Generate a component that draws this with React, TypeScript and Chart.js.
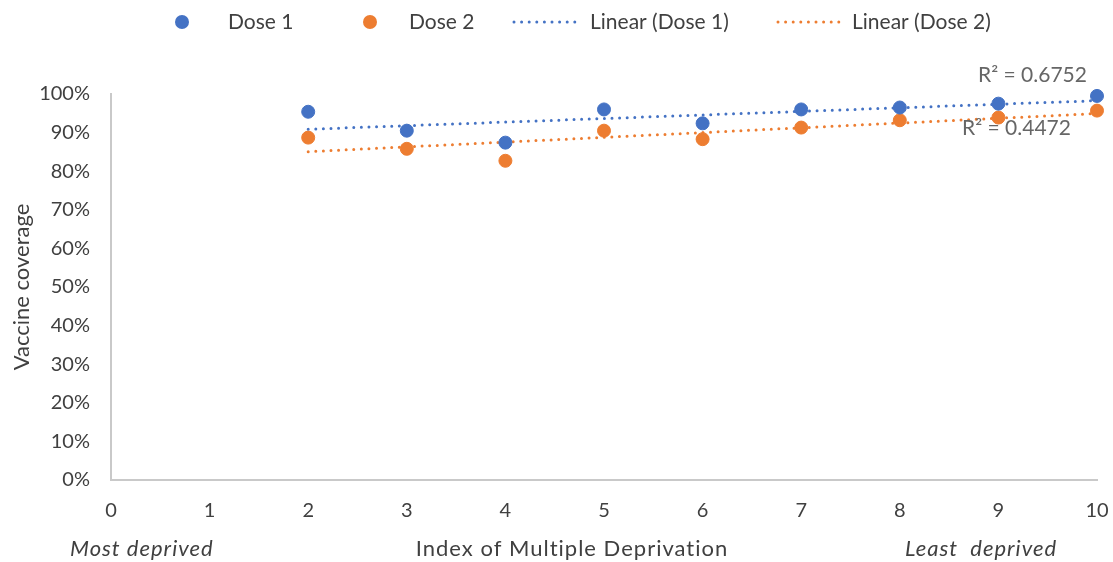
import React, { useEffect, useRef } from "react";
import { Chart, registerables } from "chart.js";

Chart.register(...registerables);

// Deprivation decile (x) and vaccine coverage in percent (y)
const deciles = [2, 3, 4, 5, 6, 7, 8, 9, 10];
const dose1Coverage = [95.4, 90.5, 87.4, 96.0, 92.4, 96.0, 96.5, 97.5, 99.5];
const dose2Coverage = [88.7, 85.8, 82.7, 90.5, 88.3, 91.3, 93.2, 93.9, 95.7];

const seriesNames = ["Dose 1", "Dose 2", "Linear (Dose 1)", "Linear (Dose 2)"];
const rSquaredLabels = ["R\u00B2 = 0.6752", "R\u00B2 = 0.4472"];
const axisLabels = {
  y: "Vaccine coverage",
  x: "Index of Multiple Deprivation",
  left: "Most deprived",
  right: "Least  deprived",
};

const BLUE = "#4472C4";
const ORANGE = "#ED7D31";
const TEXT = "#404040";
const FONT = "Lato";

// Ordinary least-squares trend line over the plotted range
function linearTrend(xs: number[], ys: number[]) {
  const n = xs.length;
  const mx = xs.reduce((a, b) => a + b, 0) / n;
  const my = ys.reduce((a, b) => a + b, 0) / n;
  let sxy = 0;
  let sxx = 0;
  for (let i = 0; i < n; i++) {
    sxy += (xs[i] - mx) * (ys[i] - my);
    sxx += (xs[i] - mx) ** 2;
  }
  const slope = sxy / sxx;
  const x0 = Math.min(...xs);
  const x1 = Math.max(...xs);
  return [
    { x: x0, y: my + slope * (x0 - mx) },
    { x: x1, y: my + slope * (x1 - mx) },
  ];
}

const pairs = (ys: number[]) => deciles.map((x, i) => ({ x, y: ys[i] }));

// Legend, R² notes and the bottom captions
const annotations = {
  id: "annotations",
  afterDraw(chart: any) {
    const ctx = chart.ctx;
    const area = chart.chartArea;
    ctx.save();
    ctx.textBaseline = "middle";
    ctx.textAlign = "left";

    // legend row
    const ly = 22;
    const dot = (cx: number, color: string) => {
      ctx.beginPath();
      ctx.arc(cx, ly, 7, 0, Math.PI * 2);
      ctx.fillStyle = color;
      ctx.fill();
    };
    const dotted = (x0: number, x1: number, color: string) => {
      ctx.save();
      ctx.strokeStyle = color;
      ctx.lineWidth = 3;
      ctx.lineCap = "round";
      ctx.setLineDash([0, 7.6]);
      ctx.beginPath();
      ctx.moveTo(x0, ly);
      ctx.lineTo(x1, ly);
      ctx.stroke();
      ctx.restore();
    };
    dot(182, BLUE);
    dot(370, ORANGE);
    dotted(514, 582, BLUE);
    dotted(778, 842, ORANGE);
    ctx.font = `21px ${FONT}`;
    ctx.fillStyle = TEXT;
    ctx.fillText(seriesNames[0], 228, ly);
    ctx.fillText(seriesNames[1], 409, ly);
    ctx.fillText(seriesNames[2], 590, ly);
    ctx.fillText(seriesNames[3], 852, ly);

    // R² notes beside the trend lines
    ctx.font = `21px ${FONT}`;
    ctx.fillStyle = "#666666";
    ctx.fillText(rSquaredLabels[0], area.right - 119, 75);
    ctx.fillText(rSquaredLabels[1], area.right - 135, 128);

    // bottom captions
    const by = 549;
    ctx.fillStyle = TEXT;
    ctx.letterSpacing = "1px";
    ctx.font = `italic 22px ${FONT}`;
    ctx.fillText(axisLabels.left, 70, by);
    ctx.fillText(axisLabels.right, 905, by);
    ctx.font = `22px ${FONT}`;
    ctx.textAlign = "center";
    ctx.fillText(axisLabels.x, 572, by);
    ctx.restore();
  },
};

export default function App() {
  const canvasRef = useRef<HTMLCanvasElement | null>(null);

  useEffect(() => {
    const canvas = canvasRef.current;
    if (!canvas) return;

    const chart = new Chart(canvas, {
      type: "scatter",
      data: {
        datasets: [
          {
            type: "line",
            label: seriesNames[2],
            data: linearTrend(deciles, dose1Coverage),
            borderColor: BLUE,
            borderWidth: 3,
            borderDash: [0, 7.6],
            borderCapStyle: "round",
            pointRadius: 0,
            fill: false,
            clip: false,
            order: 1,
          },
          {
            type: "line",
            label: seriesNames[3],
            data: linearTrend(deciles, dose2Coverage),
            borderColor: ORANGE,
            borderWidth: 3,
            borderDash: [0, 7.6],
            borderCapStyle: "round",
            pointRadius: 0,
            fill: false,
            clip: false,
            order: 1,
          },
          {
            label: seriesNames[0],
            data: pairs(dose1Coverage),
            backgroundColor: BLUE,
            borderColor: BLUE,
            borderWidth: 1,
            pointRadius: 6.5,
            clip: false,
            order: 0,
          },
          {
            label: seriesNames[1],
            data: pairs(dose2Coverage),
            backgroundColor: ORANGE,
            borderColor: ORANGE,
            borderWidth: 1,
            pointRadius: 6.5,
            clip: false,
            order: 0,
          },
        ],
      },
      options: {
        responsive: false,
        animation: false,
        devicePixelRatio: 1,
        layout: { padding: { top: 94, right: 0, bottom: 0, left: 0 } },
        plugins: {
          legend: { display: false },
          tooltip: { enabled: false },
        },
        scales: {
          x: {
            type: "linear",
            min: 0,
            max: 10,
            ticks: {
              stepSize: 1,
              padding: 19,
              color: TEXT,
              font: { family: FONT, size: 20 },
            },
            grid: { display: false, drawTicks: false },
            border: { display: true, color: "#c9c9c9", width: 2 },
            afterFit: (s: any) => {
              s.height = 82;
              s.paddingLeft = 0;
              s.paddingRight = 16;
            },
          },
          y: {
            min: 0,
            max: 100,
            ticks: {
              stepSize: 10,
              padding: 21,
              color: TEXT,
              font: { family: FONT, size: 20 },
              callback: (v: any) => `${v}%`,
            },
            grid: { display: false, drawTicks: false },
            border: { display: true, color: "#c9c9c9", width: 2 },
            title: {
              display: true,
              text: axisLabels.y,
              color: TEXT,
              font: { family: FONT, size: 22 },
              padding: { top: 9, bottom: 0 },
            },
            afterFit: (s: any) => {
              s.width = 111;
            },
          },
        },
      },
      plugins: [annotations],
    } as any);

    return () => chart.destroy();
  }, []);

  return (
    <div
      style={{
        position: "absolute",
        left: 0,
        top: 0,
        width: 1113,
        height: 562,
        background: "#ffffff",
        overflow: "hidden",
      }}
    >
      <canvas ref={canvasRef} width={1113} height={562} />
    </div>
  );
}
